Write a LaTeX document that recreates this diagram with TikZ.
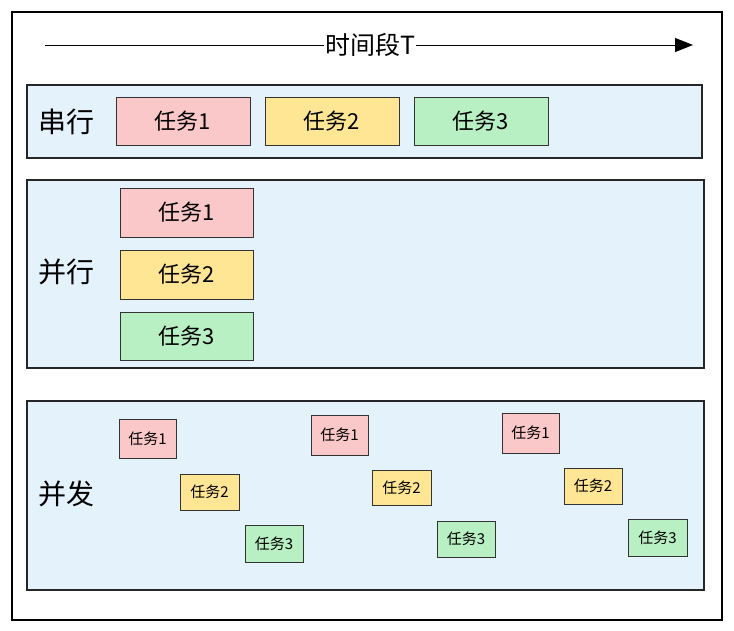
\documentclass[tikz,border=0pt]{standalone}
\usepackage{fontspec}
\newfontfamily\cjk{Noto Sans CJK SC}
\usetikzlibrary{arrows.meta}
\definecolor{lanec}{HTML}{E4F2FC}
\definecolor{pinkc}{HTML}{FAC8C8}
\definecolor{yelc}{HTML}{FFE694}
\definecolor{grnc}{HTML}{B8F0C4}
\begin{document}
\begin{tikzpicture}[x=1pt,y=-1pt,
  lane/.style={draw=black!85,line width=1.2pt,fill=lanec},
  tb/.style={draw=black!80,line width=0.9pt,font=\cjk\fontsize{22}{24}\selectfont},
  sb/.style={draw=black!80,line width=0.9pt,font=\cjk\fontsize{15}{17}\selectfont},
  pk/.style={fill=pinkc},
  yl/.style={fill=yelc},
  gr/.style={fill=grnc},
  lab/.style={font=\cjk\fontsize{28}{30}\selectfont}]
\useasboundingbox (0,0) rectangle (734,630);
\fill[white] (0,0) rectangle (734,630);
\draw[line width=1.2pt] (12,12) rectangle (722,620);
\coordinate (s) at (45,45); \coordinate (e) at (693,45);
\draw[line width=1pt,-{Triangle[length=18pt,width=14pt]}] (s) -- (e);
\node[fill=white,inner sep=1pt,font=\cjk\fontsize{25}{27}\selectfont] (t) at (370,45) {时间段T};
\draw[lane] (27,85) rectangle (702,158);
\node[lab] (l1) at (66,122) {串行};
\draw[tb,pk] (116,97) rectangle node (a1) {任务1} (250,145);
\draw[tb,yl] (265,97) rectangle node (a2) {任务2} (399,145);
\draw[tb,gr] (414,97) rectangle node (a3) {任务3} (548,145);
\draw[lane] (27,180) rectangle (704,368);
\node[lab] (l2) at (66,272) {并行};
\draw[tb,pk] (120,188) rectangle node (b1) {任务1} (253,237);
\draw[tb,yl] (120,250) rectangle node (b2) {任务2} (253,299);
\draw[tb,gr] (120,312) rectangle node (b3) {任务3} (253,360);
\draw[lane] (27,401) rectangle (704,590);
\node[lab] (l3) at (66,494) {并发};
\draw[sb,pk] (119,419) rectangle node (c1) {任务1} (176,458);
\draw[sb,pk] (311,415) rectangle node (c2) {任务1} (368,455);
\draw[sb,pk] (502,413) rectangle node (c3) {任务1} (559,453);
\draw[sb,yl] (180,474) rectangle node (d1) {任务2} (239,510);
\draw[sb,yl] (372,470) rectangle node (d2) {任务2} (431,505);
\draw[sb,yl] (564,468) rectangle node (d3) {任务2} (622,504);
\draw[sb,gr] (245,525) rectangle node (f1) {任务3} (303,562);
\draw[sb,gr] (437,521) rectangle node (f2) {任务3} (495,557);
\draw[sb,gr] (628,519) rectangle node (f3) {任务3} (687,556);
\end{tikzpicture}
\end{document}
